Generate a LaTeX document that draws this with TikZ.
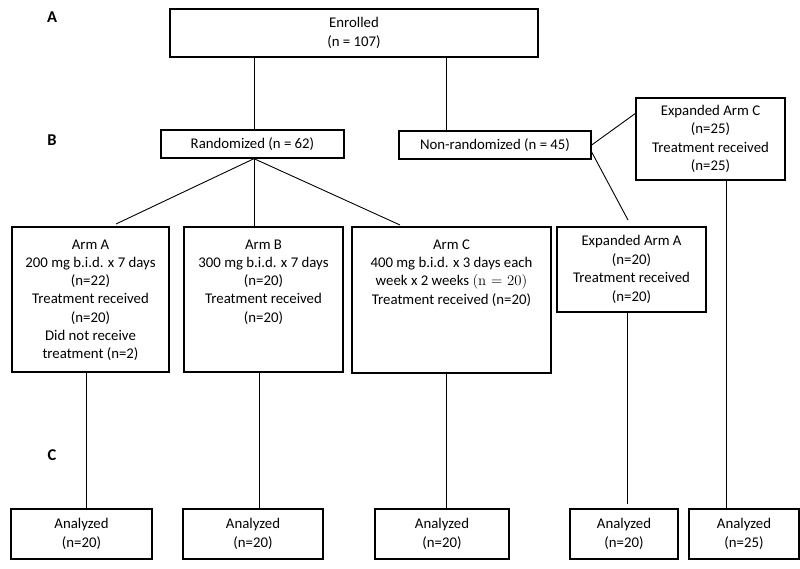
\documentclass[tikz,border=0pt]{standalone}
\usepackage{fontspec}
\setmainfont{Carlito}
\begin{document}
\begin{tikzpicture}[x=1pt,y=-1pt,
  box/.style={draw=black, line width=1.3pt, inner sep=0pt, align=center, font=\fontsize{14.8}{18.5}\selectfont},
  txt/.style={inner sep=0pt, align=center, font=\fontsize{14.8}{18.3}\selectfont},
  conn/.style={draw=black, line width=0.9pt},
  lbl/.style={inner sep=0pt, font=\fontsize{16.5}{18}\selectfont\bfseries}]
\useasboundingbox (0,0) rectangle (800,569);
% stage labels
\node[lbl] (lA) at (52,17) {A};
\node[lbl] (lB) at (52,140) {B};
\node[lbl] (lC) at (52,455) {C};
% top
\node[box, minimum width=368pt, minimum height=48pt] (enr) at (354,33) {Enrolled\\(n = 107)};
\node[box, minimum width=183pt, minimum height=28pt] (rand) at (252.5,144) {Randomized (n = 62)};
\node[box, minimum width=192pt, minimum height=28pt] (nonr) at (495,145) {Non-randomized (n = 45)};
\node[box, minimum width=149pt, minimum height=82pt] (expC) at (710.5,139) {Expanded Arm C\\(n=25)\\Treatment received\\(n=25)};
% arms
\node[box, minimum width=157pt, minimum height=145pt] (armA) at (90.5,299.5) {};
\node[txt, anchor=north] (armAt) at ([yshift=-13pt]armA.north) {Arm A\\200 mg b.i.d. x 7 days\\(n=22)\\Treatment received\\(n=20)\\Did not receive\\treatment (n=2)};
\node[box, minimum width=159pt, minimum height=145pt] (armB) at (263.5,299.5) {};
\node[txt, anchor=north] (armBt) at ([yshift=-13pt]armB.north) {Arm B\\300 mg b.i.d. x 7 days\\(n=20)\\Treatment received\\(n=20)};
\node[box, minimum width=199pt, minimum height=146pt] (armC) at (451.5,300) {};
\node[txt, anchor=north] (armCt) at ([yshift=-13pt]armC.north) {Arm C\\400 mg b.i.d. x 3 days each\\week x 2 weeks {\fontfamily{lmr}\selectfont(n = 20)}\\Treatment received (n=20)};
\node[box, minimum width=149pt, minimum height=85pt] (expA) at (631.5,269.5) {Expanded Arm A\\(n=20)\\Treatment received\\(n=20)};
% analyzed
\node[box, minimum width=141pt, minimum height=50pt] (an1) at (81.5,534) {Analyzed\\(n=20)};
\node[box, minimum width=140pt, minimum height=50pt] (an2) at (253,534) {Analyzed\\(n=20)};
\node[box, minimum width=134pt, minimum height=50pt] (an3) at (442,534) {Analyzed\\(n=20)};
\node[box, minimum width=108pt, minimum height=50pt] (an4) at (624,534) {Analyzed\\(n=20)};
\node[box, minimum width=110pt, minimum height=50pt] (an5) at (744,534) {Analyzed\\(n=25)};
% helper coordinates
\coordinate (xR) at (254,0);
\coordinate (xN) at (446,0);
\coordinate (fa) at (116,224);
\coordinate (fc) at (400,225);
\coordinate (ec) at (636,113);
\coordinate (ea) at (628,220);
\coordinate (xA) at (86,0);
\coordinate (xB) at (259,0);
\coordinate (xC) at (446,0);
\coordinate (xEA) at (627,0);
\coordinate (eAend) at (627,504);
\coordinate (xEC) at (726,0);
% connectors
\draw[conn] (xR |- enr.south) -- (xR |- rand.north);
\draw[conn] (xN |- enr.south) -- (xN |- nonr.north);
\draw[conn] (xR |- rand.south) -- (fa);
\draw[conn] (xR |- rand.south) -- (xR |- armB.north);
\draw[conn] (xR |- rand.south) -- (fc);
\draw[conn] (nonr.east) -- (ec);
\draw[conn] ([yshift=-7pt]nonr.east) -- (ea);
\draw[conn] (xA |- armA.south) -- (xA |- an1.north);
\draw[conn] (xB |- armB.south) -- (xB |- an2.north);
\draw[conn] (xC |- armC.south) -- (xC |- an3.north);
\draw[conn] (xEA |- expA.south) -- (eAend);
\draw[conn] (xEC |- expC.south) -- (xEC |- an5.north);
\end{tikzpicture}
\end{document}
